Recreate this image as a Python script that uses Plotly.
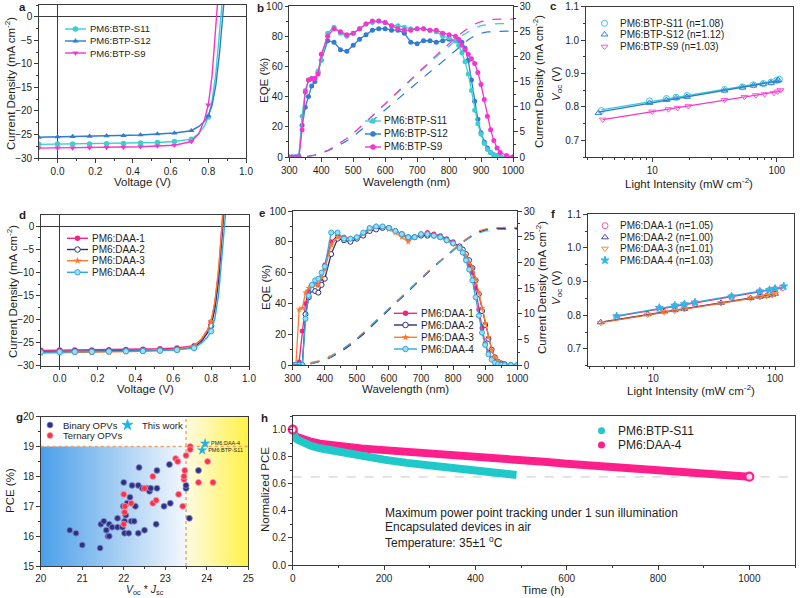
import numpy as np
import plotly.graph_objects as go

W, H = 800, 598
FONT = "'Liberation Sans', Arial, sans-serif"
AX = "#3a3a3a"
TXT = "#1e1e1e"

# ------------------------------------------------------------------ data
# (a)/(d) J-V curves
V_JV = [-0.1, 0.0, 0.08, 0.17, 0.26, 0.35, 0.44, 0.53, 0.62, 0.71, 0.75, 0.78, 0.80, 0.82, 0.84, 0.86, 0.88, 0.90]
MARK_V = [-0.1, 0.0, 0.08, 0.17, 0.26, 0.35, 0.44, 0.53, 0.62, 0.71, 0.80]
J_S11 = [-27.1, -27.05, -27.0, -27.0, -26.95, -26.9, -26.8, -26.7, -26.5, -26.0, -24.8, -23.2, -21.3, -17.8, -12.0, -3.5, 6.0, 15.0]
J_S12 = [-25.6, -25.5, -25.45, -25.4, -25.3, -25.25, -25.1, -24.9, -24.7, -24.2, -23.3, -22.2, -21.0, -18.8, -14.5, -7.5, 1.5, 11.0]
J_S9 = [-27.9, -27.85, -27.85, -27.8, -27.75, -27.7, -27.6, -27.45, -27.3, -26.5, -24.8, -21.8, -18.7, -12.5, -3.0, 8.0, 20.0, 30.0]
J_DAA1 = [-26.7, -26.65, -26.6, -26.6, -26.55, -26.5, -26.45, -26.35, -26.2, -25.7, -24.3, -22.4, -20.6, -16.5, -9.5, 0.5, 12.0, 25.0]
J_DAA2 = [-27.0, -26.95, -26.9, -26.9, -26.85, -26.8, -26.75, -26.65, -26.5, -26.0, -24.7, -23.0, -21.4, -17.8, -11.5, -2.5, 8.5, 20.0]
J_DAA3 = [-27.3, -27.25, -27.2, -27.15, -27.1, -27.0, -26.9, -26.75, -26.5, -25.8, -24.2, -22.3, -20.5, -16.2, -9.0, 1.0, 13.0, 26.0]
J_DAA4 = [-27.1, -27.05, -27.0, -27.0, -26.95, -26.9, -26.85, -26.75, -26.6, -26.2, -25.1, -23.9, -22.6, -19.8, -14.5, -6.5, 3.0, 14.0]

# (b)/(e) EQE spectra
WL = [300, 310, 320, 330, 340, 350, 360, 370, 380, 390, 400,
      420, 440, 460, 480, 500, 520, 540, 560, 580, 600, 620, 640, 660, 680, 700, 720, 740, 760, 780, 800, 820,
      830, 840, 850, 860, 870, 880, 890, 900, 910, 920, 930, 940, 950, 960, 980, 1000]
EQE_S11 = [0, 0, 0, 1, 27, 44, 51, 52, 52, 57, 64,
           82, 86, 82, 80, 82, 85, 88, 89, 90, 89, 87, 87, 86, 85, 85, 85, 84, 83, 80, 79, 77,
           74, 69, 63, 55, 44, 31, 22, 15, 9, 5, 3, 1.5, 1, 0.5, 0, 0]
EQE_S12 = [0, 0, 0, 0, 21, 33, 40, 47, 50, 56, 64,
           77, 76, 71, 70, 74, 78, 81, 84, 85, 85, 84, 84, 82, 76, 75, 77, 77, 76, 77, 78, 77,
           77, 76, 72, 64, 51, 37, 25, 16, 10, 6, 3, 1.5, 1, 0.5, 0, 0]
EQE_S9 = [0, 0, 0, 0, 18, 43, 51, 52, 52, 55, 68,
          80, 85, 83, 81, 82, 85, 88, 90, 90, 89, 87, 85, 84, 84, 85, 85, 84, 84, 82, 81, 80,
          78, 74, 71, 68, 65, 62, 56, 48, 38, 27, 18, 11, 6, 3, 1, 0]
EQE_DAA1 = [0, 0, 2, 22, 40, 48, 52, 53, 52, 56, 65,
            80, 84, 83, 82, 83, 85, 89, 90, 90, 89, 87, 85, 82, 83, 85, 86, 85, 84, 82, 80, 76,
            73, 69, 65, 60, 50, 36, 24, 14, 8, 4, 2, 1, 0.5, 0, 0, 0]
EQE_DAA2 = [0, 0, 0, 0, 33, 44, 49, 48, 47, 52, 56,
            72, 82, 81, 80, 82, 84, 87, 88, 89, 89, 87, 85, 83, 83, 84, 84, 84, 83, 81, 79, 77,
            75, 72, 68, 63, 55, 46, 35, 26, 17, 10, 5, 2, 1, 0.5, 0, 0]
EQE_DAA3 = [0, 0, 36, 37, 47, 50, 52, 52, 52, 57, 62,
            78, 83, 83, 82, 83, 85, 88, 90, 89, 88, 86, 83, 80, 83, 85, 85, 84, 83, 81, 79, 76,
            74, 71, 67, 63, 56, 47, 37, 27, 18, 10, 5, 2.5, 1, 0.5, 0, 0]
EQE_DAA4 = [0, 0, 0, 0, 30, 45, 52, 55, 56, 60, 64,
            86, 86, 82, 82, 83, 86, 89, 90, 90, 89, 87, 85, 83, 83, 85, 85, 84, 83, 81, 79, 76,
            73, 68, 62, 55, 44, 32, 21, 13, 7, 3.5, 1.5, 0.5, 0, 0, 0, 0]

# integrated current density (right axes)
WL_J = [300, 320, 340, 360, 380, 400, 420, 440, 460, 480, 500, 520, 540, 560, 580, 600, 620, 640,
        660, 680, 700, 720, 740, 760, 780, 800, 820, 840, 860, 880, 900, 920, 940, 960, 980, 1000]
JI_S11 = [0, 0, 0, 0.15, 0.4, 0.8, 1.3, 2.0, 2.8, 3.7, 4.7, 5.8, 6.9, 8.1, 9.3, 10.5, 11.7, 12.9,
          14.1, 15.3, 16.5, 17.7, 18.8, 19.9, 21.0, 22.1, 23.1, 24.1, 24.9, 25.6, 26.1, 26.35, 26.45, 26.5, 26.5, 26.5]
JI_S12 = [0, 0, 0, 0.12, 0.35, 0.7, 1.2, 1.8, 2.5, 3.2, 4.1, 5.1, 6.1, 7.2, 8.3, 9.4, 10.5, 11.6,
          12.7, 13.8, 14.8, 15.8, 16.9, 17.9, 19.0, 20.1, 21.2, 22.3, 23.3, 24.1, 24.6, 24.85, 24.95, 25.0, 25.0, 25.0]
JI_S9 = [0, 0, 0, 0.15, 0.4, 0.8, 1.3, 2.0, 2.8, 3.7, 4.7, 5.8, 7.0, 8.2, 9.4, 10.6, 11.9, 13.2,
         14.4, 15.6, 16.8, 18.0, 19.2, 20.3, 21.4, 22.5, 23.6, 24.7, 25.6, 26.4, 26.9, 27.2, 27.35, 27.4, 27.4, 27.4]
JI_DAA1 = [0, 0, 0.1, 0.3, 0.6, 1.0, 1.6, 2.3, 3.1, 4.0, 5.0, 6.1, 7.3, 8.5, 9.7, 10.9, 12.1, 13.3,
           14.4, 15.6, 16.8, 18.0, 19.2, 20.3, 21.4, 22.5, 23.5, 24.5, 25.3, 26.0, 26.4, 26.6, 26.7, 26.7, 26.7, 26.7]
JI_DAA2 = [0, 0, 0.1, 0.3, 0.6, 1.0, 1.5, 2.2, 3.0, 3.9, 4.9, 6.0, 7.2, 8.4, 9.6, 10.8, 12.0, 13.2,
           14.3, 15.5, 16.7, 17.9, 19.1, 20.2, 21.3, 22.4, 23.4, 24.4, 25.2, 25.9, 26.3, 26.5, 26.6, 26.6, 26.6, 26.6]
JI_DAA3 = [0, 0.05, 0.25, 0.5, 0.8, 1.2, 1.8, 2.5, 3.3, 4.2, 5.2, 6.3, 7.5, 8.7, 9.9, 11.1, 12.3, 13.4,
           14.5, 15.7, 16.9, 18.1, 19.2, 20.3, 21.4, 22.5, 23.5, 24.5, 25.4, 26.1, 26.5, 26.7, 26.8, 26.8, 26.8, 26.8]
JI_DAA4 = [0, 0, 0.1, 0.3, 0.6, 1.0, 1.6, 2.4, 3.2, 4.1, 5.1, 6.2, 7.4, 8.6, 9.8, 11.0, 12.2, 13.3,
           14.4, 15.6, 16.8, 18.0, 19.1, 20.2, 21.3, 22.3, 23.3, 24.3, 25.1, 25.7, 26.1, 26.3, 26.4, 26.4, 26.4, 26.4]

# (c)/(f) Voc vs light intensity
I_S11 = [3.9, 9.5, 13, 15.5, 19, 38, 53, 65, 78, 90, 100, 105]
VOC_S11 = [0.789, 0.818, 0.825, 0.829, 0.834, 0.852, 0.860, 0.866, 0.870, 0.874, 0.880, 0.883]
I_S12 = [3.7, 9.5, 13, 15.5, 19, 38, 53, 65, 78, 90, 100, 103]
VOC_S12 = [0.782, 0.812, 0.821, 0.826, 0.830, 0.849, 0.858, 0.864, 0.868, 0.872, 0.877, 0.880]
I_S9 = [4.0, 10, 13.5, 16, 19.5, 38, 55, 68, 80, 95, 102, 107]
VOC_S9 = [0.762, 0.786, 0.793, 0.797, 0.802, 0.821, 0.830, 0.835, 0.838, 0.842, 0.846, 0.850]
I_DAA1 = [5, 11.2, 15, 18, 22, 44, 75, 90, 100, 115]
VOC_DAA1 = [0.795, 0.820, 0.827, 0.831, 0.836, 0.855, 0.870, 0.874, 0.877, 0.882]
I_DAA2 = [3.7, 9, 12.3, 15, 18, 36, 63, 75, 85, 95, 100]
VOC_DAA2 = [0.779, 0.803, 0.811, 0.815, 0.819, 0.837, 0.851, 0.855, 0.858, 0.861, 0.864]
I_DAA3 = [3.7, 9, 12.3, 15, 18, 36, 63, 75, 85, 95, 100]
VOC_DAA3 = [0.777, 0.802, 0.809, 0.813, 0.818, 0.836, 0.850, 0.854, 0.857, 0.860, 0.863]
I_DAA4 = [5, 11.2, 15, 18, 22, 44, 75, 90, 100, 118]
VOC_DAA4 = [0.797, 0.822, 0.829, 0.833, 0.838, 0.856, 0.871, 0.875, 0.879, 0.886]

# (g) literature survey
BIN_X = [20.7, 20.85, 21.0, 21.43, 21.45, 21.52, 21.58, 21.62, 21.65, 21.65, 21.72, 21.85, 21.85, 21.97, 21.99,
         22.0, 22.02, 22.02, 22.05, 22.08, 22.12, 22.15, 22.18, 22.2, 22.25, 22.28, 22.35, 22.35, 22.37, 22.45,
         22.5, 22.55, 22.62, 22.65, 22.78, 22.8, 22.8, 22.97, 23.1, 23.12, 23.5, 23.5, 23.58, 23.8]
BIN_Y = [16.2, 16.1, 15.7, 15.6, 16.4, 16.5, 16.2, 16.0, 16.0, 16.4, 16.3, 16.3, 16.6, 16.3, 17.0,
         17.8, 16.1, 16.5, 16.7, 17.1, 16.1, 17.3, 16.5, 17.7, 16.5, 17.0, 17.7, 16.1, 18.3, 17.6,
         16.2, 17.6, 17.5, 17.6, 16.4, 17.6, 18.2, 17.0, 18.4, 17.1, 17.6, 17.7, 16.6, 18.2]
TER_X = [22.0, 22.02, 22.0, 22.03, 22.18, 22.5, 22.7, 22.7, 22.78, 23.25, 23.3, 23.32, 23.42, 23.45, 23.45,
         23.47, 23.5, 23.6, 23.6, 23.8, 24.02, 24.15]
TER_Y = [17.4, 16.8, 16.4, 17.0, 17.1, 17.6, 18.0, 17.1, 17.2, 18.6, 18.5, 17.4, 17.0, 17.9, 18.0,
         18.2, 18.7, 19.0, 18.9, 17.8, 18.5, 17.8]
WORK_NAMES = ["PM6:DAA-4", "PM6:BTP-S11"]
WORK_X = [23.96, 23.89]
WORK_Y = [19.1, 18.88]
VJ_SPLIT = 23.5
PCE_SPLIT = 19.0

# (h) stability
T_S11 = [0, 2, 5, 10, 20, 40, 60, 80, 100, 150, 200, 250, 300, 350, 400, 450, 490]
PCE_S11 = [1.0, 0.96, 0.94, 0.925, 0.905, 0.88, 0.862, 0.848, 0.835, 0.805, 0.778, 0.754, 0.732, 0.713, 0.695, 0.679, 0.665]
T_DAA4 = [0, 2, 5, 10, 20, 40, 60, 80, 100, 150, 200, 250, 300, 350, 400, 450, 500, 520, 530, 550,
          600, 650, 700, 750, 800, 850, 900, 950, 1000]
PCE_DAA4 = [1.0, 0.97, 0.955, 0.945, 0.93, 0.91, 0.895, 0.885, 0.875, 0.86, 0.848, 0.836, 0.825, 0.815, 0.806, 0.797,
            0.788, 0.784, 0.768, 0.762, 0.748, 0.737, 0.726, 0.715, 0.705, 0.693, 0.681, 0.667, 0.652]
REF_LEVEL = 0.65

# ------------------------------------------------------------------ styles
C_S11, C_S12, C_S9 = "#3ccfcf", "#2f7bd6", "#f536cc"
C_D1, C_D2, C_D3, C_D4 = "#f2267e", "#2c2f7c", "#ff7a2e", "#2aa9e2"
C_BIN, C_TER, C_STAR = "#2d3286", "#f2344f", "#1db4ea"
C_H1, C_H2 = "#1fc9c9", "#ff1f8a"
TICK_SIZE = 10
TITLE_SIZE = 11.5

# pixel boxes of each panel (x0, x1, y0, y1)
BOX = {
    "a": (38.7, 246, 5, 158), "b": (289.3, 513, 6, 157), "c": (585.7, 793, 6.7, 157),
    "d": (40.7, 249, 215, 365.7), "e": (292.7, 517.3, 211, 365), "f": (587.7, 794.3, 214.3, 365.7),
    "g": (40.7, 248.3, 416.7, 566), "h": (292.7, 795, 416, 565),
}


def dx(p):
    b = BOX[p]
    return [b[0] / W, b[1] / W]


def dy(p):
    b = BOX[p]
    return [1 - b[3] / H, 1 - b[2] / H]


def axis(domain, rng, anchor, dtick=None, tick0=None, mdtick=None, fmt=None, **kw):
    d = dict(domain=domain, range=rng, anchor=anchor, showline=True, linecolor=AX, linewidth=1,
             mirror=True, ticks="outside", ticklen=3.5, tickwidth=1, tickcolor=AX, showgrid=False,
             zeroline=False, automargin=False, tickfont=dict(family=FONT, size=TICK_SIZE, color=TXT))
    if dtick is not None:
        d["dtick"] = dtick
        d["tick0"] = tick0 if tick0 is not None else 0
    if mdtick is not None:
        d["minor"] = dict(ticks="outside", ticklen=2, tickwidth=1, tickcolor=AX, dtick=mdtick,
                          tick0=tick0 if tick0 is not None else 0, showgrid=False)
    if fmt:
        d["tickformat"] = fmt
    d.update(kw)
    return d


fig = go.Figure()


def add(tr):
    fig.add_trace(tr)


# ---------- (a) and (d) J-V
def jv(xa, ya, J, color, symbol, mcolor, mline):
    add(go.Scatter(x=V_JV, y=J, mode="lines", line=dict(color=color, width=1.4), xaxis=xa, yaxis=ya,
                   showlegend=False, hoverinfo="skip"))
    mx = [v for v in V_JV if v in MARK_V]
    my = [j for v, j in zip(V_JV, J) if v in MARK_V]
    add(go.Scatter(x=mx, y=my, mode="markers", xaxis=xa, yaxis=ya, showlegend=False,
                   marker=dict(symbol=symbol, size=5.5, color=mcolor, line=dict(color=color, width=mline))))


jv("x", "y", J_S11, C_S11, "circle", C_S11, 0)
jv("x", "y", J_S12, C_S12, "triangle-up", C_S12, 0)
jv("x", "y", J_S9, C_S9, "triangle-down", C_S9, 0)
jv("x4", "y5", J_DAA1, C_D1, "circle", C_D1, 0)
jv("x4", "y5", J_DAA2, C_D2, "circle", "white", 1)
jv("x4", "y5", J_DAA3, C_D3, "star", C_D3, 0)
jv("x4", "y5", J_DAA4, C_D4, "circle", "#9edcf6", 1)


# ---------- (b) and (e) EQE + integrated J
def eqe(xa, ya, yr, E, Ji, color, symbol, mcolor, mline):
    add(go.Scatter(x=WL_J, y=Ji, mode="lines", line=dict(color=color, width=1.2, dash="dash"),
                   xaxis=xa, yaxis=yr, showlegend=False, hoverinfo="skip"))
    add(go.Scatter(x=WL, y=E, mode="lines+markers", xaxis=xa, yaxis=ya, showlegend=False,
                   line=dict(color=color, width=1.3),
                   marker=dict(symbol=symbol, size=5, color=mcolor, line=dict(color=color, width=mline))))


eqe("x2", "y2", "y3", EQE_S12, JI_S12, C_S12, "circle", C_S12, 0)
eqe("x2", "y2", "y3", EQE_S11, JI_S11, C_S11, "circle", C_S11, 0)
eqe("x2", "y2", "y3", EQE_S9, JI_S9, C_S9, "circle", C_S9, 0)
eqe("x5", "y6", "y7", EQE_DAA1, JI_DAA1, C_D1, "circle", C_D1, 0)
eqe("x5", "y6", "y7", EQE_DAA2, JI_DAA2, C_D2, "circle", "white", 1)
eqe("x5", "y6", "y7", EQE_DAA3, JI_DAA3, C_D3, "star", C_D3, 0)
eqe("x5", "y6", "y7", EQE_DAA4, JI_DAA4, C_D4, "circle", "#9edcf6", 1)


# ---------- (c) and (f) Voc vs intensity with fits
def voc(xa, ya, I, V, color, symbol, lcolor):
    li = np.log10(I)
    k, b0 = np.polyfit(li, V, 1)
    xs = np.array([min(I), max(I)])
    add(go.Scatter(x=xs, y=k * np.log10(xs) + b0, mode="lines", line=dict(color=lcolor, width=1.3),
                   xaxis=xa, yaxis=ya, showlegend=False, hoverinfo="skip"))
    add(go.Scatter(x=I, y=V, mode="markers", xaxis=xa, yaxis=ya, showlegend=False,
                   marker=dict(symbol=symbol, size=6, color=color, line=dict(color=color, width=1))))


voc("x3", "y4", I_S11, VOC_S11, "#33c6dc", "circle-open", C_S11)
voc("x3", "y4", I_S12, VOC_S12, "#3b82d6", "triangle-up-open", C_S12)
voc("x3", "y4", I_S9, VOC_S9, "#ff55d2", "triangle-down-open", C_S9)
voc("x6", "y8", I_DAA1, VOC_DAA1, "#ff5aa8", "circle-open", C_D1)
voc("x6", "y8", I_DAA2, VOC_DAA2, "#4a4a9a", "triangle-up-open", C_D2)
voc("x6", "y8", I_DAA3, VOC_DAA3, "#ff8a3a", "triangle-down-open", "#f0602a")
voc("x6", "y8", I_DAA4, VOC_DAA4, "#33b5e8", "star", C_D4)

# ---------- (g) survey
g_xr = [20, 25]
g_yr = [15, 20]
add(go.Scatter(x=[g_xr[0], VJ_SPLIT, VJ_SPLIT, g_xr[0], g_xr[0]],
               y=[g_yr[0], g_yr[0], PCE_SPLIT, PCE_SPLIT, g_yr[0]], fill="toself", mode="none",
               fillgradient=dict(type="horizontal", colorscale=[[0, "#4a9fea"], [0.55, "#a9d0f4"], [1, "#f4f8fe"]]),
               xaxis="x7", yaxis="y9", showlegend=False, hoverinfo="skip"))
add(go.Scatter(x=[VJ_SPLIT, g_xr[1], g_xr[1], VJ_SPLIT, VJ_SPLIT],
               y=[g_yr[0], g_yr[0], g_yr[1], g_yr[1], g_yr[0]], fill="toself", mode="none",
               fillgradient=dict(type="horizontal", colorscale=[[0, "#fffbe3"], [1, "#fff247"]]),
               xaxis="x7", yaxis="y9", showlegend=False, hoverinfo="skip"))
add(go.Scatter(x=g_xr, y=[PCE_SPLIT, PCE_SPLIT], mode="lines", line=dict(color="#f4a05c", width=1.4, dash="dot"),
               xaxis="x7", yaxis="y9", showlegend=False, hoverinfo="skip"))
add(go.Scatter(x=[VJ_SPLIT, VJ_SPLIT], y=g_yr, mode="lines", line=dict(color="#f4a05c", width=1.4, dash="dot"),
               xaxis="x7", yaxis="y9", showlegend=False, hoverinfo="skip"))
add(go.Scatter(x=BIN_X, y=BIN_Y, mode="markers", xaxis="x7", yaxis="y9", showlegend=False,
               marker=dict(size=6, color=C_BIN, line=dict(color="#8b90c8", width=0.8))))
add(go.Scatter(x=TER_X, y=TER_Y, mode="markers", xaxis="x7", yaxis="y9", showlegend=False,
               marker=dict(size=6, color=C_TER, line=dict(color="#ff9aa8", width=0.8))))
add(go.Scatter(x=WORK_X, y=WORK_Y, mode="markers+text", text=WORK_NAMES, textposition="middle right",
               textfont=dict(family=FONT, size=5.5, color=TXT), xaxis="x7", yaxis="y9", showlegend=False,
               marker=dict(symbol="star", size=8, color=C_STAR, line=dict(width=0))))

# ---------- (h) stability
add(go.Scatter(x=[0, 1100], y=[REF_LEVEL, REF_LEVEL], mode="lines",
               line=dict(color="#c8c8c8", width=1, dash="dash"), xaxis="x8", yaxis="y10",
               showlegend=False, hoverinfo="skip"))
add(go.Scatter(x=T_DAA4, y=PCE_DAA4, mode="lines", line=dict(color=C_H2, width=8), xaxis="x8", yaxis="y10",
               showlegend=False))
add(go.Scatter(x=T_S11, y=PCE_S11, mode="lines", line=dict(color=C_H1, width=8), xaxis="x8", yaxis="y10",
               showlegend=False))
add(go.Scatter(x=[T_DAA4[0], T_DAA4[-1]], y=[PCE_DAA4[0], PCE_DAA4[-1]], mode="markers", xaxis="x8",
               yaxis="y10", showlegend=False, cliponaxis=False,
               marker=dict(size=8, color="#ffd6ea", line=dict(color=C_H2, width=2.2))))

# ------------------------------------------------------------------ manual legends (pixel overlay)
LEGENDS = [
    dict(x0=65, x1=86, mx=75.5, tx=88.5, ys=[29, 41, 53], size=9.5, items=[
        ("PM6:BTP-S11", C_S11, "circle", C_S11, True), ("PM6:BTP-S12", C_S12, "triangle-up", C_S12, True),
        ("PM6:BTP-S9", C_S9, "triangle-down", C_S9, True)]),
    dict(x0=365, x1=381, mx=373, tx=383, ys=[121, 134, 147], size=10, items=[
        ("PM6:BTP-S11", C_S11, "circle", C_S11, True), ("PM6:BTP-S12", C_S12, "circle", C_S12, True),
        ("PM6:BTP-S9", C_S9, "circle", C_S9, True)]),
    dict(x0=None, x1=None, mx=604.5, tx=619, ys=[23.3, 34.5, 46.7], size=10, items=[
        ("PM6:BTP-S11 (n=1.08)", "#33c6dc", "circle-open", None, False),
        ("PM6:BTP-S12 (n=1.12)", "#3b82d6", "triangle-up-open", None, False),
        ("PM6:BTP-S9 (n=1.03)", "#ff55d2", "triangle-down-open", None, False)]),
    dict(x0=67, x1=88, mx=77.5, tx=91, ys=[238.3, 249.5, 260.7, 272.3], size=10, items=[
        ("PM6:DAA-1", C_D1, "circle", C_D1, True), ("PM6:DAA-2", C_D2, "circle", "white", True),
        ("PM6:DAA-3", C_D3, "star", C_D3, True), ("PM6:DAA-4", C_D4, "circle", "#9edcf6", True)]),
    dict(x0=394, x1=417, mx=405.5, tx=420, ys=[313.3, 325, 337.3, 349], size=10, items=[
        ("PM6:DAA-1", C_D1, "circle", C_D1, True), ("PM6:DAA-2", C_D2, "circle", "white", True),
        ("PM6:DAA-3", C_D3, "star", C_D3, True), ("PM6:DAA-4", C_D4, "circle", "#9edcf6", True)]),
    dict(x0=None, x1=None, mx=605, tx=619, ys=[225.7, 237.3, 248.7, 260.3], size=10, items=[
        ("PM6:DAA-1 (n=1.05)", "#ff5aa8", "circle-open", None, False),
        ("PM6:DAA-2 (n=1.00)", "#4a4a9a", "triangle-up-open", None, False),
        ("PM6:DAA-3 (n=1.01)", "#ff8a3a", "triangle-down-open", None, False),
        ("PM6:DAA-4 (n=1.03)", "#33b5e8", "star", None, False)]),
]

annotations = []


def ann(x, y, text, size, anchor="left", angle=0, bold=False, yanchor="middle"):
    t = "<b>%s</b>" % text if bold else text
    annotations.append(dict(x=x / W, y=1 - y / H, xref="paper", yref="paper", text=t, showarrow=False,
                            xanchor=anchor, yanchor=yanchor, textangle=angle, borderpad=0,
                            font=dict(family=FONT, size=size, color=TXT)))


for L in LEGENDS:
    for (label, color, sym, mfill, has_line), yy in zip(L["items"], L["ys"]):
        if has_line:
            add(go.Scatter(x=[L["x0"], L["x1"]], y=[yy, yy], mode="lines", line=dict(color=color, width=1.4),
                           xaxis="x9", yaxis="y11", showlegend=False, hoverinfo="skip"))
            lw = 1 if (mfill == "white" or mfill.startswith("#9e")) else 0
            add(go.Scatter(x=[L["mx"]], y=[yy], mode="markers", xaxis="x9", yaxis="y11", showlegend=False,
                           marker=dict(symbol=sym, size=5.5, color=mfill, line=dict(color=color, width=lw))))
        else:
            add(go.Scatter(x=[L["mx"]], y=[yy], mode="markers", xaxis="x9", yaxis="y11", showlegend=False,
                           marker=dict(symbol=sym, size=6, color=color, line=dict(color=color, width=1))))
        ann(L["tx"], yy, label, L["size"])

# (g) legend
for (label, col, sym, size, lc), (mx, my, tx) in zip(
        [("Binary OPVs", C_BIN, "circle", 6, "#8b90c8"), ("Ternary OPVs", C_TER, "circle", 6, "#ff9aa8"),
         ("This work", C_STAR, "star", 8, C_STAR)],
        [(50, 425, 61.5), (50, 435.5, 61.5), (127.5, 425, 141)]):
    add(go.Scatter(x=[mx], y=[my], mode="markers", xaxis="x9", yaxis="y11", showlegend=False,
                   marker=dict(symbol=sym, size=size, color=col, line=dict(color=lc, width=0.8))))
    ann(tx, my, label, 9.5)

# (h) legend
for (label, col), my in zip([("PM6:BTP-S11", C_H1), ("PM6:DAA-4", C_H2)], [430.7, 445]):
    add(go.Scatter(x=[601.5], y=[my], mode="markers", xaxis="x9", yaxis="y11", showlegend=False,
                   marker=dict(size=7, color=col)))
    ann(616.5, my, label, 12)

# h notes
ann(384, 512.5, "Maximum power point tracking under 1 sun illumination", 12)
ann(384, 526.8, "Encapsulated devices in air", 12)
ann(384, 541.5, "Temperature: 35±1 <sup>o</sup>C", 12)

# axis titles
VOC = "<i>V</i><sub>oc</sub> (V)"
CD = "Current Density (mA cm<sup>-2</sup>)"
ann(142, 182, "Voltage (V)", TITLE_SIZE, "center")
ann(10, 84, CD, TITLE_SIZE, "center", -90)
ann(406.5, 182, "Wavelength (nm)", TITLE_SIZE, "center")
ann(264, 80, "EQE (%)", TITLE_SIZE, "center", -90)
ann(538, 82, CD, TITLE_SIZE, "center", -90)
ann(689, 182.5, "Light Intensity (mW cm<sup>-2</sup>)", TITLE_SIZE, "center")
ann(557, 84, VOC, TITLE_SIZE, "center", -90)
ann(145, 389, "Voltage (V)", TITLE_SIZE, "center")
ann(12, 292, CD, TITLE_SIZE, "center", -90)
ann(405, 389, "Wavelength (nm)", TITLE_SIZE, "center")
ann(266, 287, "EQE (%)", TITLE_SIZE, "center", -90)
ann(541, 288, CD, TITLE_SIZE, "center", -90)
ann(691, 389.5, "Light Intensity (mW cm<sup>-2</sup>)", TITLE_SIZE, "center")
ann(557, 288, VOC, TITLE_SIZE, "center", -90)
ann(144.5, 598, "<i>V</i><sub>oc</sub> * <i>J</i><sub>sc</sub>", 10.5, "center", yanchor="bottom")
ann(10, 491, "PCE (%)", TITLE_SIZE, "center", -90)
ann(543, 590, "Time (h)", TITLE_SIZE, "center")
ann(265, 490, "Normalized PCE", TITLE_SIZE, "center", -90)

# panel letters
for lt, (x, y) in zip("abcdefgh", [(18, 7), (256, 8), (549, 6), (18, 215), (258, 213), (550, 214),
                                     (15, 417), (260, 418)]):
    ann(x, y, lt, 11.5, "left", bold=True)

# ------------------------------------------------------------------ layout
lay = dict(
    template="none",
    width=W, height=H, margin=dict(l=0, r=0, t=0, b=0, pad=0), paper_bgcolor="white",
    plot_bgcolor="rgba(0,0,0,0)", showlegend=False, font=dict(family=FONT, color=TXT),
    annotations=annotations,
    xaxis=axis(dx("a"), [-0.1, 1.0], "y", 0.2, 0, 0.1, ".1f", zeroline=True, zerolinecolor=AX, zerolinewidth=1),
    yaxis=axis(dy("a"), [-30, 2.5], "x", 5, 0, 2.5, zeroline=True, zerolinecolor=AX, zerolinewidth=1),
    xaxis2=axis(dx("b"), [300, 1000], "y2", 100, 300, 50),
    yaxis2=axis(dy("b"), [0, 100], "x2", 20, 0, 10),
    yaxis3=axis(dy("b"), [0, 30], "x2", 5, 0, 2.5, overlaying="y2", side="right", mirror=False),
    xaxis3=axis(dx("c"), [np.log10(2.92), np.log10(135)], "y4", type="log", tickvals=[10, 100],
                minor=dict(ticks="outside", ticklen=2, tickcolor=AX,
                           tickvals=[3, 4, 5, 6, 7, 8, 9, 20, 30, 40, 50, 60, 70, 80, 90])),
    yaxis4=axis(dy("c"), [0.65, 1.1], "x3", 0.1, 0.7, 0.05, ".1f"),
    xaxis4=axis(dx("d"), [-0.1, 1.0], "y5", 0.2, 0, 0.1, ".1f", zeroline=True, zerolinecolor=AX, zerolinewidth=1),
    yaxis5=axis(dy("d"), [-30, 2.4], "x4", 5, 0, 2.5, zeroline=True, zerolinecolor=AX, zerolinewidth=1),
    xaxis5=axis(dx("e"), [300, 1000], "y6", 100, 300, 50),
    yaxis6=axis(dy("e"), [0, 100], "x5", 20, 0, 10),
    yaxis7=axis(dy("e"), [0, 30], "x5", 5, 0, 2.5, overlaying="y6", side="right", mirror=False),
    xaxis6=axis(dx("f"), [np.log10(2.89), np.log10(144)], "y8", type="log", tickvals=[10, 100],
                minor=dict(ticks="outside", ticklen=2, tickcolor=AX,
                           tickvals=[3, 4, 5, 6, 7, 8, 9, 20, 30, 40, 50, 60, 70, 80, 90])),
    yaxis8=axis(dy("f"), [0.65, 1.1], "x6", 0.1, 0.7, 0.05, ".1f"),
    xaxis7=axis(dx("g"), g_xr, "y9", 1, 20, 0.5, ticklen=3),
    yaxis9=axis(dy("g"), g_yr, "x7", 1, 15, 0.5),
    xaxis8=axis(dx("h"), [0, 1100], "y10", 200, 0, 100),
    yaxis10=axis(dy("h"), [0, 1.1], "x8", 0.2, 0, 0.1, ".1f"),
    xaxis9=dict(domain=[0, 1], range=[0, W], visible=False, anchor="y11", fixedrange=True, automargin=False),
    yaxis11=dict(domain=[0, 1], range=[H, 0], visible=False, anchor="x9", fixedrange=True, automargin=False),
)
fig.update_layout(**lay)
fig.write_html("out.html", config={"displayModeBar": False},
               post_script="document.body.style.margin='0px';document.body.style.overflow='hidden';")
